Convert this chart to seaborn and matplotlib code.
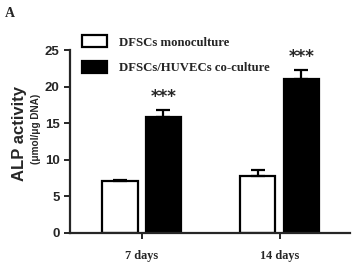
import matplotlib
matplotlib.use("Agg")
import matplotlib.pyplot as plt
import seaborn as sns
import pandas as pd
from matplotlib.patches import Patch

# --- Data ---
days = ["7 days", "14 days"]
groups = ["DFSCs monoculture", "DFSCs/HUVECs co-culture"]
mono_mean = [7.1, 7.8]
mono_err = [0.2, 0.85]
co_mean = [15.8, 21.1]
co_err = [0.95, 1.15]
stars = ["***", "***"]

df = pd.DataFrame({
    "day": days * 2,
    "group": [groups[0]] * 2 + [groups[1]] * 2,
    "value": mono_mean + co_mean,
})

sns.set_style("ticks")
plt.rcParams['font.family'] = ['Liberation Sans', 'DejaVu Sans']

fig = plt.figure(figsize=(3.52, 2.62), dpi=100)
ax = fig.add_axes([0.199, 0.111, 0.795, 0.698])

sns.barplot(data=df, x="day", y="value", hue="group", order=days,
            hue_order=groups, palette=["white", "black"], width=0.63, gap=0.19,
            edgecolor="black", linewidth=1.6, errorbar=None, ax=ax, legend=False)

# error bars (upper only) from bar positions
errs = mono_err + co_err
means = mono_mean + co_mean
for patch, m, e in zip(ax.patches, means, errs):
    cx = patch.get_x() + patch.get_width() / 2
    ax.errorbar(cx, m, yerr=[[0], [e]], fmt="none", ecolor="black",
                elinewidth=1.6, capsize=5, capthick=1.6)

# significance stars above co-culture bars
for patch, m, e, s in zip(ax.patches[2:4], co_mean, co_err, stars):
    cx = patch.get_x() + patch.get_width() / 2
    ax.text(cx, m + e + 0.6, s, ha="center", va="bottom", fontsize=12,
            fontweight="bold", family="DejaVu Sans")

ax.set_ylim(0, 25)
ax.set_xlim(-0.52, 1.51)
ax.set_yticks([0, 5, 10, 15, 20, 25])
ax.set_xlabel("")
ax.set_ylabel("")
sns.despine(ax=ax)
for sp in ["left", "bottom"]:
    ax.spines[sp].set_linewidth(1.6)
ax.tick_params(axis="both", width=1.4, length=4, direction="out")
for lab in ax.get_yticklabels():
    lab.set_fontsize(9.5)
    lab.set_fontweight("bold")
for lab in ax.get_xticklabels():
    lab.set_fontsize(8.8)
    lab.set_fontweight("bold")
    lab.set_family("Liberation Serif")
ax.tick_params(axis="x", pad=8)

# legend
handles = [Patch(facecolor="white", edgecolor="black", linewidth=1.6),
           Patch(facecolor="black", edgecolor="black", linewidth=1.6)]
ax.legend(handles, groups, loc="upper left", bbox_to_anchor=(0.0, 1.145),
          frameon=False, handlelength=2.0, handleheight=1.1,
          labelspacing=0.95, handletextpad=0.9,
          prop={"family": "Liberation Serif", "weight": "bold", "size": 9.2})

fig.text(0.054, 0.49, "ALP activity", rotation=90, ha="center", va="center",
         fontsize=12, fontweight="bold")
fig.text(0.102, 0.51, "(μmol/μg DNA)", rotation=90, ha="center", va="center",
         fontsize=7.2, fontweight="bold")
fig.text(0.014, 0.975, "A", ha="left", va="top", fontsize=10, fontweight="bold",
         family="Liberation Serif")

fig.savefig("out.png", dpi=100)
